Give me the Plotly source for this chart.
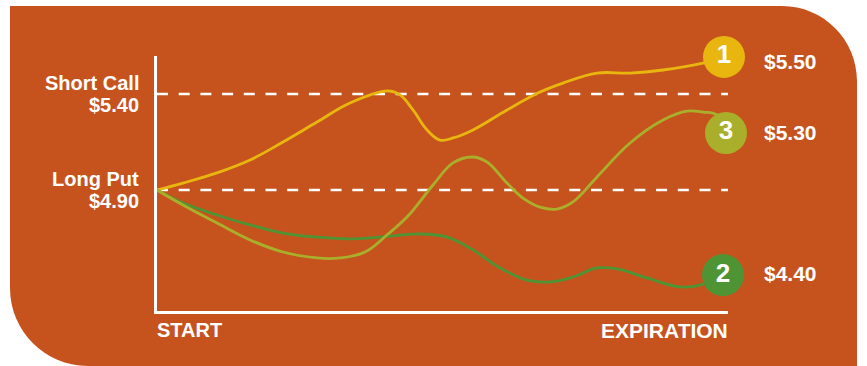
import plotly.graph_objects as go

W, H = 867, 366

# ---- data (time in % of the way from START to EXPIRATION, price in $) ----
strike_prices = [5.40, 4.90]
strike_names = ["Short Call", "Long Put"]
strike_texts = ["$5.40", "$4.90"]

t1 = [0, 4.55, 10.51, 16.29, 22.07, 28.02, 33.80, 40.46, 42.56, 44.83, 47.29,
      49.56, 51.84, 55.34, 61.30, 67.08, 71.10, 77.06, 82.84, 88.62, 95.62, 99.30]
p1 = [4.900, 4.936, 4.989, 5.056, 5.150, 5.254, 5.353, 5.416, 5.395, 5.317, 5.213,
      5.160, 5.171, 5.213, 5.317, 5.410, 5.457, 5.509, 5.509, 5.525, 5.561, 5.593]

t2 = [0, 4.55, 10.51, 16.29, 22.07, 28.02, 33.80, 39.05, 46.06, 50.79, 55.34,
      60.07, 64.80, 68.83, 72.85, 77.06, 80.56, 85.81, 91.59, 95.10, 99.12]
p2 = [4.900, 4.832, 4.770, 4.718, 4.676, 4.655, 4.645, 4.655, 4.671, 4.655, 4.588,
      4.494, 4.431, 4.421, 4.447, 4.494, 4.489, 4.442, 4.395, 4.405, 4.457]

t3 = [0, 4.55, 10.51, 16.29, 22.07, 28.02, 32.05, 36.43, 40.46, 43.78, 48.34,
      51.84, 55.17, 57.79, 61.30, 64.10, 67.08, 70.05, 72.85, 77.06, 82.84,
      88.62, 92.82, 95.62, 98.07, 99.65]
p3 = [4.900, 4.822, 4.728, 4.640, 4.577, 4.546, 4.546, 4.577, 4.671, 4.759, 4.926,
      5.041, 5.072, 5.046, 4.936, 4.858, 4.811, 4.801, 4.838, 4.968, 5.145,
      5.265, 5.311, 5.306, 5.291, 5.197]

scenario_ids = ["1", "2", "3"]
final_labels = ["$5.50", "$4.40", "$5.30"]
x_labels = ["START", "EXPIRATION"]

# ---- style ----
ORANGE = "#C6531E"
COLORS = ["#E8B60E", "#4E9434", "#A9AF2B"]
FONT = "Liberation Sans, Arial, sans-serif"

ML, MR, MT, MB = 157, 139, 56, 55
PW, PH = W - ML - MR, H - MT - MB


def pxx(px):
    return (px - ML) / PW


def pxy(py):
    return (H - MB - py) / PH


def P(px, py):
    return f"{pxx(px):.5f},{pxy(py):.5f}"


k = 0.5523
R1, R2 = 75, 78
L_, T_, R_, B_ = 10, 6, 857, 366
path = (
    f"M {P(L_, T_)} L {P(R_ - R1, T_)} "
    f"C {P(R_ - R1 + k * R1, T_)} {P(R_, T_ + R1 - k * R1)} {P(R_, T_ + R1)} "
    f"L {P(R_, B_ + 4)} L {P(L_ + R2, B_ + 4)} L {P(L_ + R2, B_)} "
    f"C {P(L_ + R2 - k * R2, B_)} {P(L_, B_ - R2 + k * R2)} {P(L_, B_ - R2)} Z"
)

fig = go.Figure()

series = [(t1, p1), (t2, p2), (t3, p3)]
for (tt, pp), c in zip(series, COLORS):
    fig.add_trace(go.Scatter(
        x=tt, y=pp, mode="lines", line=dict(color=c, width=2.8, shape="spline", smoothing=1.1),
        cliponaxis=False, hoverinfo="skip", showlegend=False))

for (tt, pp), c, sid in zip(series, COLORS, scenario_ids):
    fig.add_trace(go.Scatter(
        x=[tt[-1]], y=[pp[-1]], mode="markers+text", text=[sid],
        textposition="middle center",
        textfont=dict(family=FONT, size=26, color="white", weight="bold"),
        marker=dict(size=42, color=c, line=dict(width=0)),
        cliponaxis=False, hoverinfo="skip", showlegend=False))

shapes = [dict(type="path", path=path, xref="paper", yref="paper",
               fillcolor=ORANGE, line=dict(width=0), layer="below")]
for sp in strike_prices:
    shapes.append(dict(type="line", xref="x", yref="y", x0=0, x1=100, y0=sp, y1=sp,
                       line=dict(color="white", width=2.5, dash="11px,10.7px"),
                       layer="below"))

annotations = []
for sp, nm, tx in zip(strike_prices, strike_names, strike_texts):
    annotations.append(dict(x=pxx(141), xref="paper", y=sp, yref="y", text=nm,
                            showarrow=False, xanchor="right", yanchor="middle", yshift=11,
                            font=dict(family=FONT, size=20, color="white", weight="bold")))
    annotations.append(dict(x=pxx(141), xref="paper", y=sp, yref="y", text=tx,
                            showarrow=False, xanchor="right", yanchor="middle", yshift=-11,
                            font=dict(family=FONT, size=20, color="white", weight="bold")))

label_shift = [-5, 2, 0]
for (tt, pp), lab, ys in zip(series, final_labels, label_shift):
    annotations.append(dict(x=pxx(762), xref="paper", y=pp[-1], yref="y", text=lab,
                            showarrow=False, xanchor="left", yanchor="middle", yshift=ys,
                            font=dict(family=FONT, size=21, color="white", weight="bold")))

annotations.append(dict(x=pxx(155), xref="paper", y=pxy(330), yref="paper", text=x_labels[0],
                        showarrow=False, xanchor="left", yanchor="middle",
                        font=dict(family=FONT, size=20, color="white", weight="bold")))
annotations.append(dict(x=pxx(730), xref="paper", y=pxy(330), yref="paper", text=x_labels[1],
                        showarrow=False, xanchor="right", yanchor="middle",
                        font=dict(family=FONT, size=21, color="white", weight="bold")))

y_lo = 4.90 - (H - MB - 190) / 192
y_hi = 4.90 + (190 - MT) / 192

fig.update_layout(
    width=W, height=H,
    margin=dict(l=ML, r=MR, t=MT, b=MB, pad=0),
    paper_bgcolor="white", plot_bgcolor="rgba(0,0,0,0)",
    xaxis=dict(range=[0, 100], showgrid=False, zeroline=False, showticklabels=False,
               ticks="", showline=True, linecolor="white", linewidth=2.5, fixedrange=True),
    yaxis=dict(range=[y_lo, y_hi], showgrid=False, zeroline=False, showticklabels=False,
               ticks="", showline=True, linecolor="white", linewidth=2.5, fixedrange=True),
    shapes=shapes, annotations=annotations, showlegend=False,
)

fig.write_html("out.html", config={"displayModeBar": False})
